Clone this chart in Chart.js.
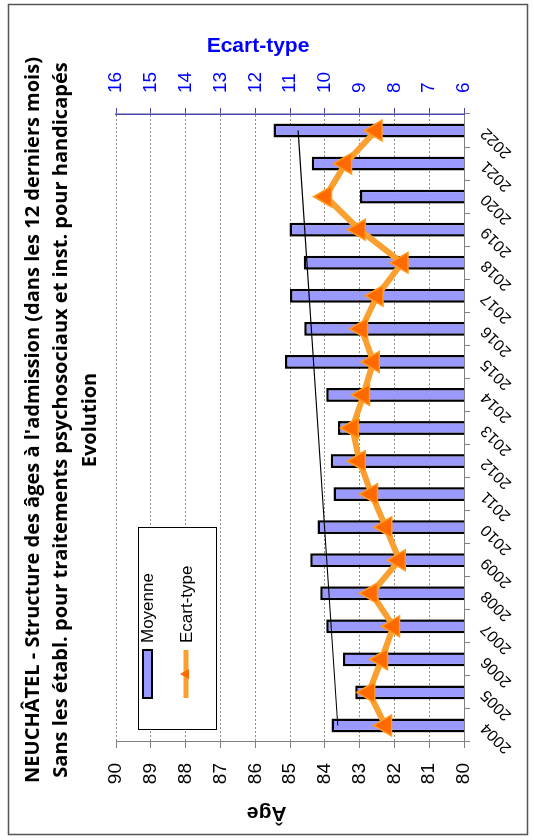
<!DOCTYPE html>
<html>
<head>
<meta charset="utf-8">
<script src="https://cdn.jsdelivr.net/npm/chart.js@4.4.1/dist/chart.umd.min.js"></script>
<style>
  html, body { margin: 0; padding: 0; background: #fff; }
  body { width: 534px; height: 840px; overflow: hidden; position: relative; }
  /* the chart is built landscape and turned a quarter left */
  #wrap {
    position: absolute; left: 0; top: 0;
    width: 840px; height: 534px;
    transform-origin: 0 0;
    transform: translate(0, 840px) rotate(-90deg);
  }
</style>
</head>
<body>
<div id="wrap"><canvas id="chart" width="840" height="534"></canvas></div>
<script>
var years = ['2004', '2005', '2006', '2007', '2008', '2009', '2010', '2011', '2012', '2013',
             '2014', '2015', '2016', '2017', '2018', '2019', '2020', '2021', '2022'];

// Moyenne d'âge (axe de gauche)
var moyenne = [83.81, 83.13, 83.48, 83.96, 84.13, 84.42, 84.21, 83.75, 83.83, 83.62,
               83.96, 85.15, 84.59, 85.00, 84.61, 85.02, 82.99, 84.38, 85.48];

// Ecart-type (axe de droite)
var ecartType = [8.26, 8.74, 8.37, 8.03, 8.66, 7.86, 8.25, 8.66, 9.01, 9.21,
                 8.89, 8.61, 8.95, 8.50, 7.78, 9.01, 9.98, 9.41, 8.53];

// linear trend of Moyenne, end points
var tendance = [83.63, null, null, null, null, null, null, null, null, null,
                null, null, null, null, null, null, null, null, 84.77];

var titleLines = [
    'NEUCHÂTEL - Structure des âges à l\'admission (dans les 12 derniers mois)',
    'Sans les établ. pour traitements psychosociaux et inst. pour handicapés',
    'Evolution'
];

var barColor = '#9999ff';
var lineColor = '#f9a030';
var markColor = '#ff6a00';
var blue = '#0000ff';
var fontFamily = '"Liberation Sans", Arial, sans-serif';

// white page + outer frame
var frame = {
    id: 'frame',
    beforeDraw: function(chart) {
        var ctx = chart.ctx;
        ctx.save();
        ctx.fillStyle = '#fff';
        ctx.fillRect(0, 0, chart.width, chart.height);
        ctx.strokeStyle = '#555';
        ctx.lineWidth = 1.5;
        ctx.strokeRect(5.5, 8.5, 830, 519);
        ctx.restore();
    }
};

// legend box sitting inside the plot, top-left
var legendBox = {
    id: 'legendBox',
    afterDraw: function(chart) {
        var ctx = chart.ctx;
        ctx.save();
        ctx.fillStyle = '#fff';
        ctx.fillRect(110.5, 138.5, 202, 78);
        ctx.strokeStyle = '#000';
        ctx.lineWidth = 1;
        ctx.strokeRect(110.5, 138.5, 202, 78);

        // Moyenne
        ctx.fillStyle = barColor;
        ctx.fillRect(142, 143, 48, 9);
        ctx.strokeStyle = '#000';
        ctx.lineWidth = 2;
        ctx.strokeRect(142, 143, 48, 9);

        // Ecart-type
        ctx.strokeStyle = lineColor;
        ctx.lineWidth = 5;
        ctx.beginPath();
        ctx.moveTo(142, 186);
        ctx.lineTo(190, 186);
        ctx.stroke();
        ctx.fillStyle = markColor;
        ctx.beginPath();
        ctx.moveTo(166, 180);
        ctx.lineTo(171, 189);
        ctx.lineTo(161, 189);
        ctx.closePath();
        ctx.fill();

        ctx.fillStyle = '#000';
        ctx.font = '17px ' + fontFamily;
        ctx.textBaseline = 'middle';
        ctx.fillText('Moyenne', 197, 148);
        ctx.fillText('Ecart-type', 197, 187);
        ctx.restore();
    }
};

new Chart(document.getElementById('chart').getContext('2d'), {
    data: {
        labels: years,
        datasets: [{
            type: 'line',
            label: 'Ecart-type',
            data: ecartType,
            yAxisID: 'y2',
            order: 1,
            borderColor: lineColor,
            borderWidth: 6,
            tension: 0,
            pointStyle: 'triangle',
            pointRadius: 12,
            pointBackgroundColor: markColor,
            pointBorderColor: '#ff9a1a',
            pointBorderWidth: 1.5
        }, {
            type: 'line',
            label: 'Tendance',
            data: tendance,
            yAxisID: 'y',
            order: 2,
            spanGaps: true,
            borderColor: '#000',
            borderWidth: 1.2,
            pointRadius: 0
        }, {
            type: 'bar',
            label: 'Moyenne',
            data: moyenne,
            yAxisID: 'y',
            order: 3,
            backgroundColor: barColor,
            borderColor: '#000',
            borderWidth: 2.5,
            borderSkipped: false,
            categoryPercentage: 1,
            barPercentage: 0.42
        }]
    },
    options: {
        responsive: false,
        animation: false,
        devicePixelRatio: 1,
        layout: { padding: 0 },
        plugins: {
            legend: { display: false },
            tooltip: { enabled: false },
            title: {
                display: true,
                text: titleLines,
                color: '#000',
                font: { family: '"Open Sans", sans-serif', size: 20, weight: 'bold', lineHeight: 1.42 },
                padding: { top: 19, bottom: 12 }
            }
        },
        scales: {
            x: {
                offset: true,
                grid: { offset: true, drawOnChartArea: false, tickLength: 6, tickColor: '#808080' },
                border: { color: '#808080', width: 1 },
                ticks: {
                    autoSkip: false, minRotation: 45, maxRotation: 45, padding: 7,
                    color: '#000', font: { family: fontFamily, size: 16 }
                },
                afterFit: function(s) { s.height = 70; }
            },
            y: {
                position: 'left',
                min: 80,
                max: 90,
                ticks: { stepSize: 1, padding: 15, color: '#000', font: { family: fontFamily, size: 19 } },
                grid: { color: '#8c8c8c', lineWidth: 1, tickLength: 6, tickColor: '#808080' },
                border: { color: '#808080', width: 1, dash: [2, 2] },
                title: {
                    display: true, text: '        Âge', color: '#000',
                    font: { family: fontFamily, size: 21, weight: 'bold' },
                    padding: { top: 15, bottom: 0 }
                },
                afterFit: function(s) { s.width = 98; }
            },
            y2: {
                position: 'right',
                min: 6,
                max: 16,
                ticks: { stepSize: 1, padding: 15, color: blue, font: { family: fontFamily, size: 19 } },
                grid: { drawOnChartArea: false, tickLength: 6, tickColor: '#4848a8' },
                border: { color: '#4848a8', width: 1.5 },
                title: {
                    display: true, text: 'Ecart-type           ', color: blue,
                    font: { family: fontFamily, size: 21, weight: 'bold' },
                    padding: { top: 34, bottom: 0 }
                },
                afterFit: function(s) { s.width = 114; }
            }
        }
    },
    plugins: [frame, legendBox]
});
</script>
</body>
</html>
